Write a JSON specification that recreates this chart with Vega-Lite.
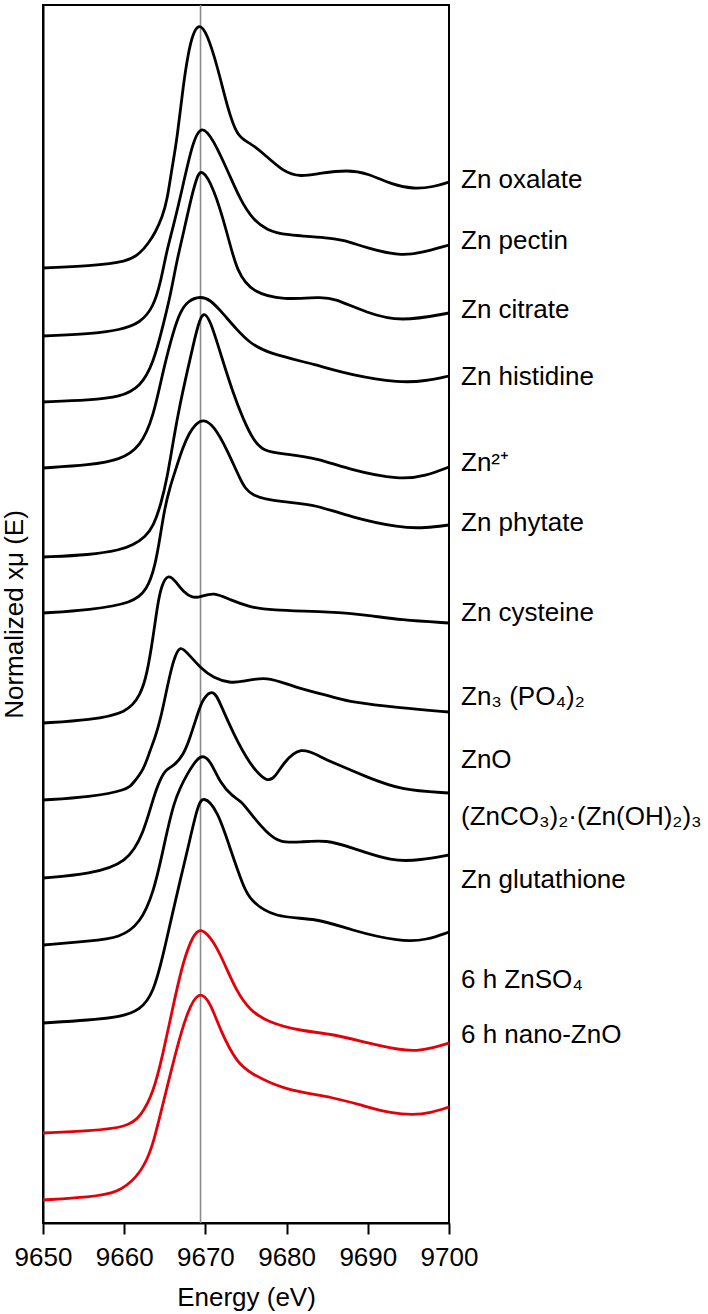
{
"$schema": "https://vega.github.io/schema/vega-lite/v6.json",
"width": 406, "height": 1218,
"autosize": "none",
"padding": {"left": 43, "top": 5, "right": 259, "bottom": 91},
"config": {"view": {"stroke": "black", "strokeWidth": 2}, "font": "Liberation Sans"},
"datasets": {
"ref": [{"e": 9669.4}],
"labels": [
{"t": "Zn oxalate", "v": 10.43},
{"t": "Zn pectin", "v": 9.82},
{"t": "Zn citrate", "v": 9.13},
{"t": "Zn histidine", "v": 8.46},
{"t": "Zn²⁺", "v": 7.60},
{"t": "Zn phytate", "v": 7.00},
{"t": "Zn cysteine", "v": 6.10},
{"t": "Zn₃ (PO₄)₂", "v": 5.26},
{"t": "ZnO", "v": 4.63},
{"t": "(ZnCO₃)₂·(Zn(OH)₂)₃", "v": 4.06},
{"t": "Zn glutathione", "v": 3.43},
{"t": "6 h ZnSO₄", "v": 2.43},
{"t": "6 h nano-ZnO", "v": 1.88}
],
"spectra": [
{"s":"oxalate","e":9650,"v":9.55},{"s":"oxalate","e":9655.8,"v":9.57},{"s":"oxalate","e":9660.4,"v":9.61},{"s":"oxalate","e":9662.0,"v":9.70},{"s":"oxalate","e":9663.0,"v":9.80},{"s":"oxalate","e":9663.8,"v":9.90},{"s":"oxalate","e":9664.7,"v":10.06},{"s":"oxalate","e":9665.3,"v":10.23},{"s":"oxalate","e":9665.9,"v":10.56},{"s":"oxalate","e":9666.5,"v":10.83},{"s":"oxalate","e":9667.3,"v":11.40},{"s":"oxalate","e":9667.9,"v":11.70},{"s":"oxalate","e":9668.4,"v":11.88},{"s":"oxalate","e":9669.2,"v":12.00},{"s":"oxalate","e":9670.2,"v":11.90},{"s":"oxalate","e":9671.5,"v":11.56},{"s":"oxalate","e":9672.7,"v":11.16},{"s":"oxalate","e":9673.9,"v":10.86},{"s":"oxalate","e":9675.5,"v":10.80},{"s":"oxalate","e":9677.1,"v":10.70},{"s":"oxalate","e":9679.6,"v":10.51},{"s":"oxalate","e":9681.7,"v":10.46},{"s":"oxalate","e":9684.2,"v":10.50},{"s":"oxalate","e":9687.5,"v":10.53},{"s":"oxalate","e":9689.9,"v":10.50},{"s":"oxalate","e":9693.1,"v":10.38},{"s":"oxalate","e":9695.6,"v":10.34},{"s":"oxalate","e":9698.1,"v":10.36},{"s":"oxalate","e":9700,"v":10.41},
{"s":"pectin","e":9650,"v":8.87},{"s":"pectin","e":9655.8,"v":8.89},{"s":"pectin","e":9659.5,"v":8.93},{"s":"pectin","e":9662.0,"v":9.00},{"s":"pectin","e":9663.6,"v":9.16},{"s":"pectin","e":9664.5,"v":9.41},{"s":"pectin","e":9665.2,"v":9.71},{"s":"pectin","e":9666.1,"v":9.98},{"s":"pectin","e":9667.2,"v":10.36},{"s":"pectin","e":9668.4,"v":10.80},{"s":"pectin","e":9669.5,"v":10.99},{"s":"pectin","e":9671.0,"v":10.83},{"s":"pectin","e":9672.7,"v":10.53},{"s":"pectin","e":9674.3,"v":10.23},{"s":"pectin","e":9675.9,"v":10.03},{"s":"pectin","e":9677.6,"v":9.93},{"s":"pectin","e":9679.6,"v":9.88},{"s":"pectin","e":9685.8,"v":9.85},{"s":"pectin","e":9687.8,"v":9.81},{"s":"pectin","e":9689.9,"v":9.75},{"s":"pectin","e":9694.0,"v":9.67},{"s":"pectin","e":9696.5,"v":9.70},{"s":"pectin","e":9700,"v":9.78},
{"s":"citrate","e":9650,"v":8.21},{"s":"citrate","e":9655.8,"v":8.23},{"s":"citrate","e":9659.5,"v":8.26},{"s":"citrate","e":9662.0,"v":8.36},{"s":"citrate","e":9663.6,"v":8.60},{"s":"citrate","e":9664.8,"v":8.98},{"s":"citrate","e":9665.7,"v":9.28},{"s":"citrate","e":9666.5,"v":9.63},{"s":"citrate","e":9667.3,"v":9.90},{"s":"citrate","e":9668.1,"v":10.20},{"s":"citrate","e":9668.9,"v":10.45},{"s":"citrate","e":9669.5,"v":10.55},{"s":"citrate","e":9671.0,"v":10.36},{"s":"citrate","e":9672.7,"v":9.90},{"s":"citrate","e":9673.9,"v":9.50},{"s":"citrate","e":9675.9,"v":9.30},{"s":"citrate","e":9679.6,"v":9.23},{"s":"citrate","e":9684.2,"v":9.26},{"s":"citrate","e":9685.8,"v":9.25},{"s":"citrate","e":9689.9,"v":9.10},{"s":"citrate","e":9694.0,"v":9.01},{"s":"citrate","e":9700,"v":9.10},
{"s":"histidine","e":9650,"v":7.55},{"s":"histidine","e":9655.8,"v":7.58},{"s":"histidine","e":9659.5,"v":7.63},{"s":"histidine","e":9662.0,"v":7.76},{"s":"histidine","e":9663.6,"v":8.06},{"s":"histidine","e":9664.8,"v":8.53},{"s":"histidine","e":9666.1,"v":8.93},{"s":"histidine","e":9666.9,"v":9.11},{"s":"histidine","e":9667.8,"v":9.22},{"s":"histidine","e":9669.4,"v":9.27},{"s":"histidine","e":9670.6,"v":9.23},{"s":"histidine","e":9671.8,"v":9.13},{"s":"histidine","e":9673.9,"v":8.93},{"s":"histidine","e":9675.5,"v":8.80},{"s":"histidine","e":9677.6,"v":8.70},{"s":"histidine","e":9683.8,"v":8.58},{"s":"histidine","e":9687.8,"v":8.48},{"s":"histidine","e":9694.0,"v":8.40},{"s":"histidine","e":9697.1,"v":8.42},{"s":"histidine","e":9700,"v":8.47},
{"s":"zn2","e":9650,"v":6.66},{"s":"zn2","e":9655.8,"v":6.68},{"s":"zn2","e":9659.5,"v":6.73},{"s":"zn2","e":9661.1,"v":6.78},{"s":"zn2","e":9662.6,"v":6.86},{"s":"zn2","e":9663.6,"v":6.97},{"s":"zn2","e":9664.5,"v":7.18},{"s":"zn2","e":9665.3,"v":7.45},{"s":"zn2","e":9666.1,"v":7.85},{"s":"zn2","e":9666.9,"v":8.20},{"s":"zn2","e":9667.8,"v":8.53},{"s":"zn2","e":9668.5,"v":8.78},{"s":"zn2","e":9669.1,"v":8.98},{"s":"zn2","e":9669.7,"v":9.12},{"s":"zn2","e":9670.6,"v":9.03},{"s":"zn2","e":9671.8,"v":8.71},{"s":"zn2","e":9673.4,"v":8.30},{"s":"zn2","e":9674.7,"v":8.03},{"s":"zn2","e":9675.9,"v":7.83},{"s":"zn2","e":9677.1,"v":7.72},{"s":"zn2","e":9679.6,"v":7.69},{"s":"zn2","e":9683.8,"v":7.65},{"s":"zn2","e":9687.8,"v":7.53},{"s":"zn2","e":9694.0,"v":7.43},{"s":"zn2","e":9697.1,"v":7.47},{"s":"zn2","e":9700,"v":7.56},
{"s":"phytate","e":9650,"v":6.10},{"s":"phytate","e":9655.8,"v":6.13},{"s":"phytate","e":9661.1,"v":6.20},{"s":"phytate","e":9662.8,"v":6.33},{"s":"phytate","e":9663.8,"v":6.56},{"s":"phytate","e":9664.5,"v":6.90},{"s":"phytate","e":9665.0,"v":7.15},{"s":"phytate","e":9665.6,"v":7.35},{"s":"phytate","e":9666.4,"v":7.55},{"s":"phytate","e":9667.2,"v":7.75},{"s":"phytate","e":9668.0,"v":7.90},{"s":"phytate","e":9668.8,"v":7.99},{"s":"phytate","e":9669.7,"v":8.04},{"s":"phytate","e":9671.0,"v":7.98},{"s":"phytate","e":9672.7,"v":7.73},{"s":"phytate","e":9674.3,"v":7.43},{"s":"phytate","e":9675.5,"v":7.26},{"s":"phytate","e":9679.6,"v":7.21},{"s":"phytate","e":9683.8,"v":7.18},{"s":"phytate","e":9687.8,"v":7.06},{"s":"phytate","e":9694.0,"v":6.95},{"s":"phytate","e":9697.1,"v":6.95},{"s":"phytate","e":9700,"v":6.98},
{"s":"cysteine","e":9650,"v":5.00},{"s":"cysteine","e":9655.8,"v":5.03},{"s":"cysteine","e":9660.4,"v":5.10},{"s":"cysteine","e":9662.0,"v":5.28},{"s":"cysteine","e":9662.8,"v":5.48},{"s":"cysteine","e":9663.6,"v":5.88},{"s":"cysteine","e":9664.1,"v":6.18},{"s":"cysteine","e":9664.6,"v":6.38},{"s":"cysteine","e":9665.4,"v":6.49},{"s":"cysteine","e":9666.3,"v":6.42},{"s":"cysteine","e":9667.3,"v":6.31},{"s":"cysteine","e":9668.4,"v":6.25},{"s":"cysteine","e":9669.4,"v":6.26},{"s":"cysteine","e":9671.0,"v":6.31},{"s":"cysteine","e":9673.1,"v":6.23},{"s":"cysteine","e":9675.5,"v":6.16},{"s":"cysteine","e":9677.6,"v":6.13},{"s":"cysteine","e":9685.8,"v":6.11},{"s":"cysteine","e":9689.9,"v":6.08},{"s":"cysteine","e":9694.0,"v":6.03},{"s":"cysteine","e":9700,"v":6.00},
{"s":"phosphate","e":9650,"v":4.23},{"s":"phosphate","e":9655.8,"v":4.26},{"s":"phosphate","e":9660.4,"v":4.33},{"s":"phosphate","e":9661.1,"v":4.40},{"s":"phosphate","e":9662.4,"v":4.53},{"s":"phosphate","e":9663.2,"v":4.73},{"s":"phosphate","e":9663.8,"v":4.85},{"s":"phosphate","e":9664.5,"v":5.05},{"s":"phosphate","e":9665.1,"v":5.28},{"s":"phosphate","e":9665.7,"v":5.51},{"s":"phosphate","e":9666.3,"v":5.68},{"s":"phosphate","e":9666.9,"v":5.77},{"s":"phosphate","e":9667.8,"v":5.70},{"s":"phosphate","e":9669.4,"v":5.55},{"s":"phosphate","e":9671.0,"v":5.45},{"s":"phosphate","e":9673.1,"v":5.40},{"s":"phosphate","e":9674.3,"v":5.41},{"s":"phosphate","e":9677.6,"v":5.47},{"s":"phosphate","e":9680.8,"v":5.36},{"s":"phosphate","e":9685.8,"v":5.26},{"s":"phosphate","e":9687.8,"v":5.21},{"s":"phosphate","e":9694.0,"v":5.15},{"s":"phosphate","e":9700,"v":5.11},
{"s":"zno","e":9650,"v":3.45},{"s":"zno","e":9655.8,"v":3.49},{"s":"zno","e":9660.4,"v":3.60},{"s":"zno","e":9662.4,"v":3.90},{"s":"zno","e":9663.6,"v":4.26},{"s":"zno","e":9664.5,"v":4.45},{"s":"zno","e":9665.2,"v":4.54},{"s":"zno","e":9666.1,"v":4.57},{"s":"zno","e":9667.3,"v":4.68},{"s":"zno","e":9668.1,"v":4.85},{"s":"zno","e":9669.0,"v":5.08},{"s":"zno","e":9669.7,"v":5.25},{"s":"zno","e":9671.0,"v":5.34},{"s":"zno","e":9671.8,"v":5.20},{"s":"zno","e":9673.4,"v":4.90},{"s":"zno","e":9675.5,"v":4.58},{"s":"zno","e":9677.6,"v":4.40},{"s":"zno","e":9678.6,"v":4.46},{"s":"zno","e":9679.6,"v":4.60},{"s":"zno","e":9681.7,"v":4.77},{"s":"zno","e":9684.2,"v":4.66},{"s":"zno","e":9685.8,"v":4.60},{"s":"zno","e":9689.9,"v":4.46},{"s":"zno","e":9694.0,"v":4.33},{"s":"zno","e":9700,"v":4.30},
{"s":"carbonate","e":9650,"v":2.78},{"s":"carbonate","e":9655.8,"v":2.82},{"s":"carbonate","e":9659.5,"v":2.85},{"s":"carbonate","e":9662.0,"v":3.00},{"s":"carbonate","e":9663.6,"v":3.30},{"s":"carbonate","e":9664.8,"v":3.73},{"s":"carbonate","e":9666.1,"v":4.23},{"s":"carbonate","e":9667.8,"v":4.50},{"s":"carbonate","e":9669.4,"v":4.70},{"s":"carbonate","e":9670.6,"v":4.63},{"s":"carbonate","e":9671.8,"v":4.40},{"s":"carbonate","e":9673.4,"v":4.26},{"s":"carbonate","e":9674.3,"v":4.23},{"s":"carbonate","e":9675.9,"v":4.06},{"s":"carbonate","e":9677.6,"v":3.90},{"s":"carbonate","e":9679.2,"v":3.80},{"s":"carbonate","e":9681.7,"v":3.81},{"s":"carbonate","e":9685.0,"v":3.83},{"s":"carbonate","e":9687.8,"v":3.76},{"s":"carbonate","e":9693.1,"v":3.61},{"s":"carbonate","e":9696.5,"v":3.63},{"s":"carbonate","e":9700,"v":3.68},
{"s":"glutathione","e":9650,"v":2.00},{"s":"glutathione","e":9655.8,"v":2.03},{"s":"glutathione","e":9659.5,"v":2.06},{"s":"glutathione","e":9662.0,"v":2.13},{"s":"glutathione","e":9663.6,"v":2.30},{"s":"glutathione","e":9664.8,"v":2.68},{"s":"glutathione","e":9665.9,"v":3.08},{"s":"glutathione","e":9666.9,"v":3.43},{"s":"glutathione","e":9667.8,"v":3.73},{"s":"glutathione","e":9669.0,"v":4.16},{"s":"glutathione","e":9669.7,"v":4.28},{"s":"glutathione","e":9671.5,"v":4.13},{"s":"glutathione","e":9673.1,"v":3.73},{"s":"glutathione","e":9674.7,"v":3.36},{"s":"glutathione","e":9675.5,"v":3.23},{"s":"glutathione","e":9678.4,"v":3.05},{"s":"glutathione","e":9683.8,"v":3.05},{"s":"glutathione","e":9687.8,"v":2.93},{"s":"glutathione","e":9694.0,"v":2.81},{"s":"glutathione","e":9697.3,"v":2.83},{"s":"glutathione","e":9700,"v":2.91},
{"s":"znso4","e":9650,"v":0.90},{"s":"znso4","e":9655.8,"v":0.92},{"s":"znso4","e":9660.4,"v":0.96},{"s":"znso4","e":9662.0,"v":1.06},{"s":"znso4","e":9663.6,"v":1.30},{"s":"znso4","e":9664.8,"v":1.70},{"s":"znso4","e":9666.1,"v":2.20},{"s":"znso4","e":9667.3,"v":2.63},{"s":"znso4","e":9668.5,"v":2.88},{"s":"znso4","e":9669.4,"v":2.95},{"s":"znso4","e":9670.6,"v":2.86},{"s":"znso4","e":9671.8,"v":2.70},{"s":"znso4","e":9673.9,"v":2.30},{"s":"znso4","e":9675.5,"v":2.13},{"s":"znso4","e":9677.6,"v":2.01},{"s":"znso4","e":9681.7,"v":1.92},{"s":"znso4","e":9685.8,"v":1.89},{"s":"znso4","e":9689.9,"v":1.80},{"s":"znso4","e":9694.0,"v":1.73},{"s":"znso4","e":9696.0,"v":1.72},{"s":"znso4","e":9698.0,"v":1.75},{"s":"znso4","e":9700,"v":1.80},
{"s":"nano","e":9650,"v":0.23},{"s":"nano","e":9655.8,"v":0.26},{"s":"nano","e":9659.2,"v":0.30},{"s":"nano","e":9661.6,"v":0.46},{"s":"nano","e":9662.8,"v":0.63},{"s":"nano","e":9663.6,"v":0.80},{"s":"nano","e":9664.8,"v":1.20},{"s":"nano","e":9666.5,"v":1.76},{"s":"nano","e":9667.8,"v":2.12},{"s":"nano","e":9669.2,"v":2.33},{"s":"nano","e":9670.6,"v":2.21},{"s":"nano","e":9671.8,"v":1.93},{"s":"nano","e":9673.9,"v":1.60},{"s":"nano","e":9675.5,"v":1.50},{"s":"nano","e":9679.6,"v":1.33},{"s":"nano","e":9685.8,"v":1.26},{"s":"nano","e":9689.9,"v":1.16},{"s":"nano","e":9692.8,"v":1.10},{"s":"nano","e":9695.6,"v":1.08},{"s":"nano","e":9697.7,"v":1.10},{"s":"nano","e":9700,"v":1.16}
]
},
"layer": [
{"data": {"name": "ref"},
 "mark": {"type": "rule", "color": "#8c8c8c", "strokeWidth": 1.6},
 "encoding": {"x": {"field": "e", "type": "quantitative", "scale": {"domain": [9650, 9700], "nice": false}}}},
{"data": {"name": "spectra"},
 "mark": {"type": "line", "interpolate": "basis", "strokeWidth": 2.8},
 "encoding": {
  "x": {"field": "e", "type": "quantitative", "scale": {"domain": [9650, 9700], "nice": false},
        "axis": {"values": [9650, 9660, 9670, 9680, 9690, 9700], "format": "d", "title": "Energy (eV)", "grid": false,
                 "domainColor": "black", "domainWidth": 2, "tickColor": "black", "tickWidth": 2, "tickSize": 11,
                 "labelFontSize": 26, "labelColor": "black", "labelPadding": 10, "labelFlush": false, "labelFont": "Liberation Sans",
                 "titleFontSize": 26, "titleFontWeight": "normal", "titleColor": "black", "titlePadding": 14, "titleFont": "Liberation Sans"}},
  "y": {"field": "v", "type": "quantitative", "scale": {"domain": [0, 12.18], "nice": false, "zero": false},
        "axis": {"title": "Normalized xμ (E)", "ticks": false, "labels": false, "grid": false, "domainColor": "black", "domainWidth": 2,
                 "titleFontSize": 26, "titleFontWeight": "normal", "titleColor": "black", "titlePadding": 16, "titleFont": "Liberation Sans"}},
  "color": {"field": "s", "type": "nominal", "legend": null,
            "scale": {"domain": ["oxalate","pectin","citrate","histidine","zn2","phytate","cysteine","phosphate","zno","carbonate","glutathione","znso4","nano"],
                      "range": ["#000000","#000000","#000000","#000000","#000000","#000000","#000000","#000000","#000000","#000000","#000000","#e3000b","#e3000b"]}}
 }},
{"data": {"name": "labels"},
 "mark": {"type": "text", "align": "left", "baseline": "middle", "dx": 12, "fontSize": 26, "font": "Liberation Sans", "color": "black"},
 "encoding": {
  "x": {"datum": 9700, "type": "quantitative"},
  "y": {"field": "v", "type": "quantitative"},
  "text": {"field": "t"}
 }}
]
}
